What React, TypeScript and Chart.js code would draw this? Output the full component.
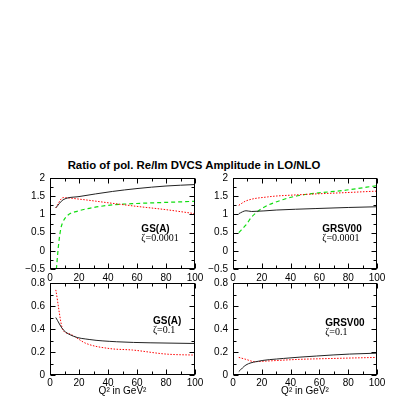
import React, { useEffect, useRef } from "react";
import { Chart, registerables } from "chart.js";
Chart.register(...registerables);

const TITLE = "Ratio of pol. Re/Im DVCS Amplitude in LO/NLO";
const X_TITLE = "Q² in GeV²";

const X_TICKS = [0, 20, 40, 60, 80, 100];
const Y_TICKS_TOP = [-0.5, 0, 0.5, 1, 1.5, 2];
const Y_TICKS_BOTTOM = [0, 0.2, 0.4, 0.6, 0.8];

// Top-left: GS(A), zeta = 0.0001
const GSA1_BLACK_Q = [4, 9, 20, 43, 60, 80, 100];
const GSA1_BLACK = [1.18, 1.4, 1.49, 1.63, 1.71, 1.78, 1.82];
const GSA1_RED_Q = [4, 9, 20, 40, 60, 80, 100];
const GSA1_RED = [1.18, 1.46, 1.42, 1.32, 1.22, 1.13, 1.02];
const GSA1_GREEN_Q = [4.4, 6, 7.5, 9, 12, 20, 30, 43, 60, 80, 100];
const GSA1_GREEN = [-0.5, 0.2, 0.62, 0.8, 0.97, 1.1, 1.19, 1.26, 1.3, 1.33, 1.36];

// Top-right: GRSV00, zeta = 0.0001
const GRSV1_BLACK_Q = [4, 9, 13, 30, 57, 80, 100];
const GRSV1_BLACK = [1.02, 1.1, 1.08, 1.12, 1.16, 1.19, 1.21];
const GRSV1_RED_Q = [4, 9, 24, 46, 79, 100];
const GRSV1_RED = [1.25, 1.37, 1.48, 1.54, 1.6, 1.64];
const GRSV1_GREEN_Q = [4, 9, 13, 20, 35, 46, 79, 100];
const GRSV1_GREEN = [0.5, 0.71, 0.93, 1.16, 1.41, 1.52, 1.67, 1.79];

// Bottom-left: GS(A), zeta = 0.1
const GSA2_BLACK_Q = [4, 9, 16, 27, 46, 69, 100];
const GSA2_BLACK = [0.5, 0.395, 0.338, 0.309, 0.289, 0.28, 0.274];
const GSA2_RED_Q = [4, 9, 13, 25, 41, 57, 80, 100];
const GSA2_RED = [0.74, 0.39, 0.36, 0.274, 0.23, 0.217, 0.182, 0.173];

// Bottom-right: GRSV00, zeta = 0.1
const GRSV2_BLACK_Q = [4, 9, 16, 35, 58, 81, 100];
const GRSV2_BLACK = [0.03, 0.087, 0.116, 0.144, 0.165, 0.182, 0.19];
const GRSV2_RED_Q = [4, 9, 15, 23, 46, 70, 100];
const GRSV2_RED = [0.153, 0.136, 0.116, 0.121, 0.136, 0.144, 0.153];

const NAMES = ["GS(A)", "GRSV00"];
const ZETAS = ["ζ=0.0001", "ζ=0.1"];

const SANS = "'Liberation Sans', Arial, Helvetica, sans-serif";
const SERIF = "'Liberation Serif', 'Times New Roman', serif";

type Series = { q: number[]; v: number[]; kind: "black" | "red" | "green" };

const STYLE: Record<string, any> = {
  black: { borderColor: "#222222", borderDash: [], borderWidth: 1 },
  red: { borderColor: "#ff0000", borderDash: [1.5, 1.5], borderWidth: 1 },
  green: { borderColor: "#11dd11", borderDash: [4, 3], borderWidth: 1.2 },
};

const fmt = (v: number) => {
  const r = Math.round(v * 100) / 100;
  return String(r).replace("-", "−");
};

const framePlugin = {
  id: "frame",
  afterDatasetsDraw(chart: any, _args: any, opts: any) {
    const { ctx, chartArea: a, scales } = chart;
    const x = scales.x;
    const y = scales.y;
    ctx.save();
    ctx.strokeStyle = "#000";
    ctx.lineWidth = 1;
    const L = Math.round(a.left) + 0.5;
    const R = Math.round(a.right) - 0.5;
    const T = Math.round(a.top) + 0.5;
    const B = Math.round(a.bottom) - 0.5;
    ctx.strokeRect(L, T, R - L, B - T);
    ctx.beginPath();
    for (let v = x.min; v <= x.max + 1e-9; v += opts.xMinor) {
      const major = Math.abs(v / opts.xMajor - Math.round(v / opts.xMajor)) < 1e-6;
      const len = major ? 5 : 3;
      const px = Math.round(x.getPixelForValue(v)) + 0.5;
      ctx.moveTo(px, B);
      ctx.lineTo(px, B - len);
      ctx.moveTo(px, T);
      ctx.lineTo(px, T + len);
    }
    for (let v = y.min; v <= y.max + 1e-9; v += opts.yMinor) {
      const major = Math.abs(v / opts.yMajor - Math.round(v / opts.yMajor)) < 1e-6;
      const len = major ? 5 : 3;
      const py = Math.round(y.getPixelForValue(v)) + 0.5;
      ctx.moveTo(L, py);
      ctx.lineTo(L + len, py);
      ctx.moveTo(R, py);
      ctx.lineTo(R - len, py);
    }
    ctx.stroke();
    ctx.fillStyle = "#000";
    ctx.textAlign = "left";
    ctx.textBaseline = "middle";
    for (const lab of opts.labels || []) {
      ctx.font = lab.font;
      ctx.fillText(lab.text, x.getPixelForValue(lab.x), y.getPixelForValue(lab.y));
    }
    ctx.restore();
  },
};

type PanelProps = {
  area: { left: number; top: number; right: number; bottom: number };
  bottomRow: boolean;
  yMin: number;
  yMax: number;
  yTicks: number[];
  yMinor: number;
  yMajor: number;
  series: Series[];
  labels: { text: string; x: number; y: number; font: string }[];
};

function Panel(p: PanelProps) {
  const ref = useRef<HTMLCanvasElement | null>(null);
  const padL = 40;
  const padT = 8;
  const padR = 12;
  const xH = p.bottomRow ? 24 : 16;
  const w = p.area.right - p.area.left + padL + padR;
  const h = p.area.bottom - p.area.top + padT + xH;

  useEffect(() => {
    if (!ref.current) return;
    const zero = (s: any) => {
      s.paddingLeft = 0;
      s.paddingRight = 0;
      s.paddingTop = 0;
      s.paddingBottom = 0;
    };
    const chart = new Chart(ref.current, {
      type: "line",
      data: {
        datasets: p.series.map((s) => ({
          data: s.q.map((q, i) => ({ x: q, y: s.v[i] })),
          ...STYLE[s.kind],
          pointRadius: 0,
          fill: false,
          cubicInterpolationMode: "monotone",
        })),
      },
      options: {
        responsive: false,
        animation: false,
        devicePixelRatio: 1,
        layout: { padding: { left: 0, top: padT, right: padR, bottom: 0 } },
        plugins: {
          legend: { display: false },
          tooltip: { enabled: false },
          frame: {
            xMinor: 10,
            xMajor: 20,
            yMinor: p.yMinor,
            yMajor: p.yMajor,
            labels: p.labels,
          },
        } as any,
        scales: {
          x: {
            type: "linear",
            min: 0,
            max: 100,
            grid: { display: false, drawTicks: false, tickLength: 0 },
            border: { display: false },
            afterBuildTicks: (s: any) => {
              s.ticks = X_TICKS.map((v) => ({ value: v }));
            },
            afterFit: (s: any) => {
              s.height = xH;
              zero(s);
            },
            ticks: {
              font: { family: SANS, size: 10 },
              color: "#000",
              padding: p.bottomRow ? 2 : 3,
              maxRotation: 0,
              autoSkip: false,
              callback: (v: any) => fmt(Number(v)),
            },
            title: {
              display: p.bottomRow,
              text: X_TITLE,
              font: { family: SANS, size: 10 },
              color: "#000",
              padding: { top: 0, bottom: 2 },
            },
          },
          y: {
            type: "linear",
            min: p.yMin,
            max: p.yMax,
            grid: { display: false, drawTicks: false, tickLength: 0 },
            border: { display: false },
            afterBuildTicks: (s: any) => {
              s.ticks = p.yTicks.map((v) => ({ value: v }));
            },
            afterFit: (s: any) => {
              s.width = padL;
              zero(s);
            },
            ticks: {
              font: { family: SANS, size: 10 },
              color: "#000",
              padding: 5,
              autoSkip: false,
              callback: (v: any) => fmt(Number(v)),
            },
          },
        },
      } as any,
      plugins: [framePlugin],
    });
    return () => chart.destroy();
  }, []);

  return (
    <canvas
      ref={ref}
      width={w}
      height={h}
      style={{
        position: "absolute",
        left: p.area.left - padL,
        top: p.area.top - padT,
        width: w,
        height: h,
      }}
    />
  );
}

const boldLab = `bold 10px ${SANS}`;
const serifLab = `10px ${SERIF}`;

export default function App() {
  return (
    <div
      style={{
        position: "absolute",
        left: 0,
        top: 0,
        width: 409,
        height: 409,
        background: "#fff",
        overflow: "hidden",
      }}
    >
      <div
        style={{
          position: "absolute",
          left: 194,
          top: 159,
          transform: "translateX(-50%)",
          whiteSpace: "nowrap",
          font: `bold 11.4px ${SANS}`,
          lineHeight: "13px",
          color: "#000",
        }}
      >
        {TITLE}
      </div>
      <Panel
        area={{ left: 50, top: 178, right: 195, bottom: 269 }}
        bottomRow={false}
        yMin={-0.5}
        yMax={2}
        yTicks={Y_TICKS_TOP}
        yMinor={0.25}
        yMajor={0.5}
        series={[
          { q: GSA1_BLACK_Q, v: GSA1_BLACK, kind: "black" },
          { q: GSA1_RED_Q, v: GSA1_RED, kind: "red" },
          { q: GSA1_GREEN_Q, v: GSA1_GREEN, kind: "green" },
        ]}
        labels={[
          { text: NAMES[0], x: 63, y: 0.58, font: boldLab },
          { text: ZETAS[0], x: 63, y: 0.33, font: serifLab },
        ]}
      />
      <Panel
        area={{ left: 233, top: 178, right: 377, bottom: 269 }}
        bottomRow={false}
        yMin={-0.5}
        yMax={2}
        yTicks={Y_TICKS_TOP}
        yMinor={0.25}
        yMajor={0.5}
        series={[
          { q: GRSV1_BLACK_Q, v: GRSV1_BLACK, kind: "black" },
          { q: GRSV1_RED_Q, v: GRSV1_RED, kind: "red" },
          { q: GRSV1_GREEN_Q, v: GRSV1_GREEN, kind: "green" },
        ]}
        labels={[
          { text: NAMES[1], x: 62, y: 0.58, font: boldLab },
          { text: ZETAS[0], x: 62, y: 0.33, font: serifLab },
        ]}
      />
      <Panel
        area={{ left: 50, top: 283, right: 195, bottom: 375 }}
        bottomRow={true}
        yMin={0}
        yMax={0.8}
        yTicks={Y_TICKS_BOTTOM}
        yMinor={0.1}
        yMajor={0.2}
        series={[
          { q: GSA2_BLACK_Q, v: GSA2_BLACK, kind: "black" },
          { q: GSA2_RED_Q, v: GSA2_RED, kind: "red" },
        ]}
        labels={[
          { text: NAMES[0], x: 71, y: 0.47, font: boldLab },
          { text: ZETAS[1], x: 71, y: 0.39, font: serifLab },
        ]}
      />
      <Panel
        area={{ left: 233, top: 283, right: 377, bottom: 375 }}
        bottomRow={true}
        yMin={0}
        yMax={0.8}
        yTicks={Y_TICKS_BOTTOM}
        yMinor={0.1}
        yMajor={0.2}
        series={[
          { q: GRSV2_BLACK_Q, v: GRSV2_BLACK, kind: "black" },
          { q: GRSV2_RED_Q, v: GRSV2_RED, kind: "red" },
        ]}
        labels={[
          { text: NAMES[1], x: 64, y: 0.45, font: boldLab },
          { text: ZETAS[1], x: 64, y: 0.37, font: serifLab },
        ]}
      />
    </div>
  );
}
